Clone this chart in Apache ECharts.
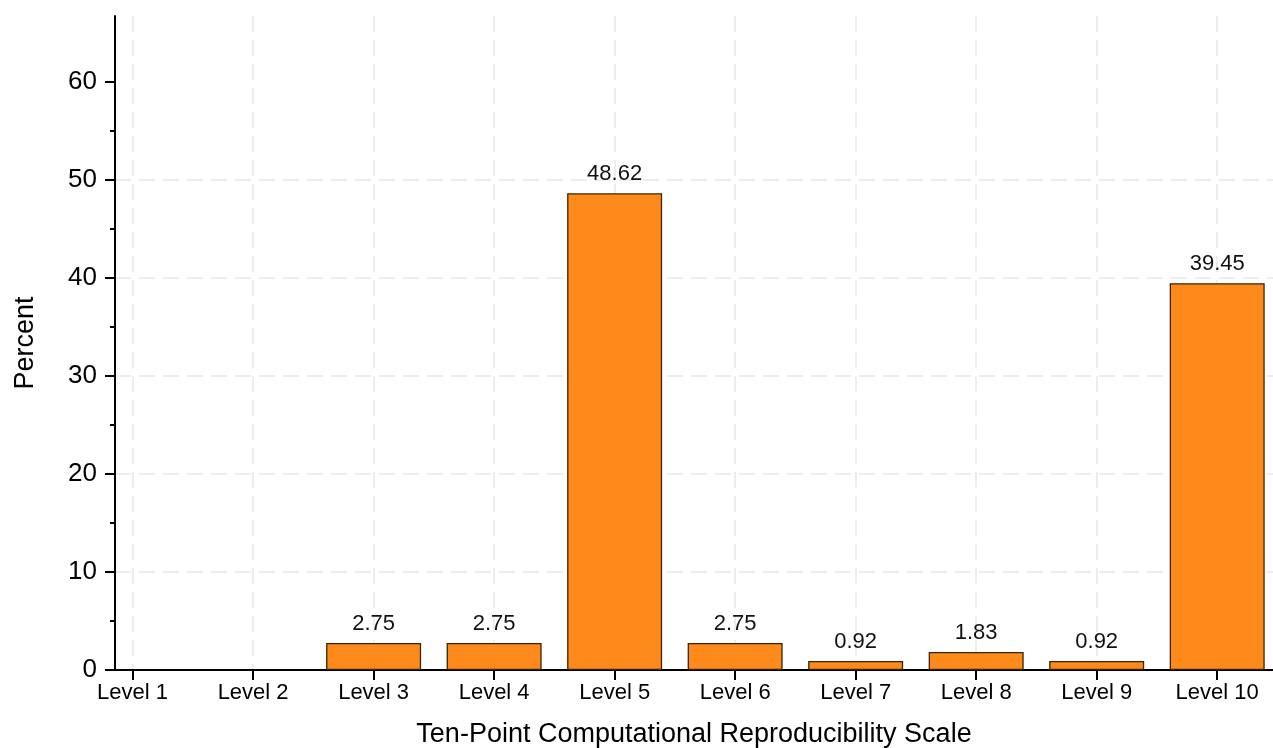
<!DOCTYPE html>
<html>
<head>
<meta charset="utf-8">
<script src="https://cdn.jsdelivr.net/npm/echarts@6/dist/echarts.min.js"></script>
<style>html,body{margin:0;padding:0;background:#fff;}#c{width:1273px;height:748px;}</style>
</head>
<body>
<div id="c"></div>
<script>
const categories = ['Level 1','Level 2','Level 3','Level 4','Level 5','Level 6','Level 7','Level 8','Level 9','Level 10'];
const positions = [1,2,3,4,5,6,7,8,9,10];
const percents = [0,0,2.75,2.75,48.62,2.75,0.92,1.83,0.92,39.45];
const yMajorTicks = [0,10,20,30,40,50,60];
const yMinorTicks = [5,15,25,35,45,55];

const font = 'Liberation Sans, Arial, Helvetica, sans-serif';
const el = document.getElementById('c');
const chart = echarts.init(el, null, {renderer:'canvas'});
const gridStyle = {show:true, lineStyle:{color:'#ededed', width:2, type:[16,8]}};
chart.setOption({
  animation:false,
  backgroundColor:'#fff',
  grid:{left:115, right:0, top:16, bottom:78, containLabel:false, outerBoundsMode:'none'},
  xAxis:{
    type:'value', min:0.854, max:10.463,
    name:'Ten-Point Computational Reproducibility Scale',
    nameLocation:'middle', nameGap:51,
    nameTextStyle:{fontFamily:font, fontSize:27, color:'#000'},
    axisLine:{show:true, onZero:false, lineStyle:{color:'#000', width:2}},
    axisTick:{show:true, length:10, customValues:positions, lineStyle:{color:'#000', width:2}},
    axisLabel:{show:true, customValues:positions, margin:12, fontFamily:font, fontSize:22, color:'#000',
      formatter:function(v){ const i = positions.indexOf(Math.round(v)); return i>=0 ? categories[i] : ''; }},
    splitLine:gridStyle
  },
  yAxis:[{
    type:'value', min:0, max:66.7, interval:10,
    name:'Percent', nameLocation:'middle', nameGap:76,
    nameTextStyle:{fontFamily:font, fontSize:27, color:'#000'},
    axisLine:{show:true, lineStyle:{color:'#000', width:2}},
    axisTick:{show:true, length:10, customValues:yMajorTicks, lineStyle:{color:'#000', width:2}},
    axisLabel:{show:true, customValues:yMajorTicks, margin:18, fontFamily:font, fontSize:26, color:'#000'},
    splitLine:Object.assign({}, gridStyle, {showMinLine:false, showMaxLine:false})
  },{
    type:'value', min:0, max:66.7, position:'left',
    axisLine:{show:false},
    axisTick:{show:true, length:5, customValues:yMinorTicks, lineStyle:{color:'#000', width:2}},
    axisLabel:{show:false},
    splitLine:{show:false}
  }],
  series:[{
    type:'bar', yAxisIndex:0, barWidth:95,
    data: positions.map((p,i)=>({value:[p, percents[i]], itemStyle: percents[i] > 0 ? undefined : {opacity:0}})),
    itemStyle:{color:'#fe8a1b', borderColor:'#3d2400', borderWidth:1.3},
    label:{show:true, position:'top', distance:8, fontFamily:font, fontSize:22, color:'#111',
      formatter:function(p){ return p.value[1] > 0 ? p.value[1].toFixed(2) : ''; }}
  }]
});
</script>
</body>
</html>
